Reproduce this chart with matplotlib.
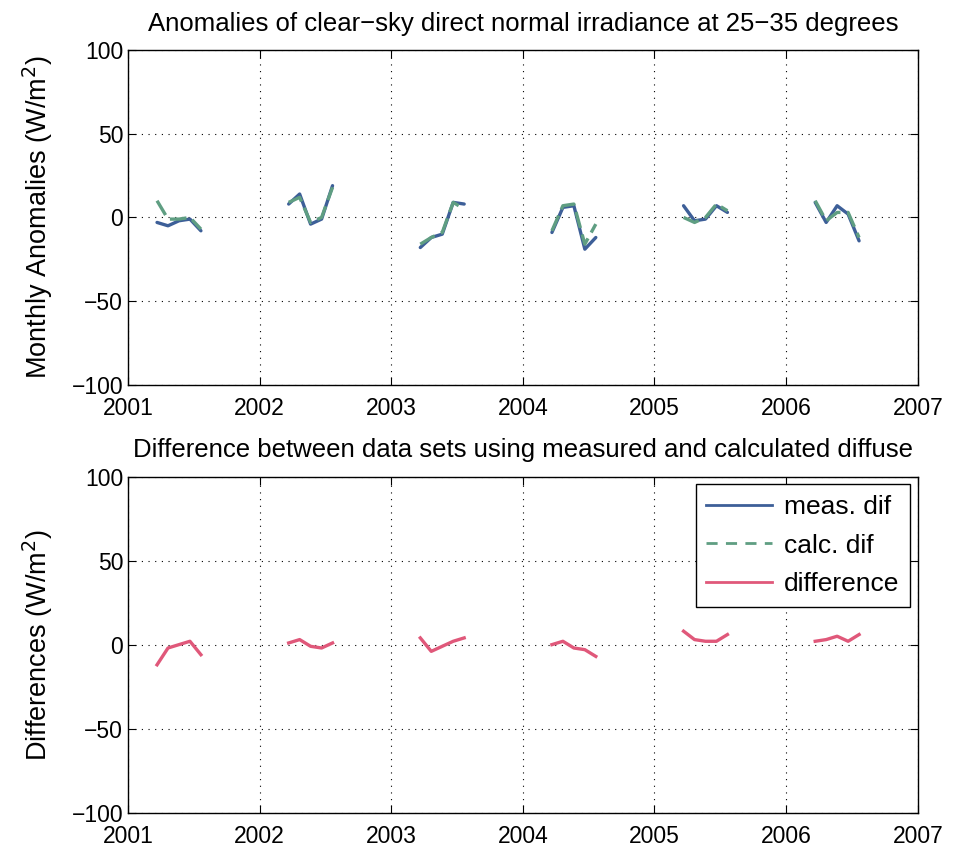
import matplotlib
matplotlib.use("Agg")
import matplotlib.pyplot as plt
import numpy as np

plt.rcParams['font.family'] = ['Liberation Sans', 'DejaVu Sans']

# April..August of each year
years = [2001, 2002, 2003, 2004, 2005, 2006]
months = [4, 5, 6, 7, 8]

meas_dif = [
    [-3, -5, -2, -1, -8],
    [8, 14, -4, -1, 19],
    [-18, -12, -10, 9, 8],
    [-9, 6, 7, -19, -12],
    [7, -2, -1, 7, 3],
    [9, -3, 7, 2, -14],
]
calc_dif = [
    [10, -1, -1, 0, -7],
    [9, 12, -3, 0, 18],
    [-16, -12, -9, 9, 5],
    [-8, 7, 8, -16, -4],
    [0, -3, 0, 8, 4],
    [10, -2, 3, 3, -12],
]
difference = [
    [-12, -2, 0, 2, -6],
    [1, 3, -1, -2, 1],
    [4, -4, -1, 2, 4],
    [0, 2, -2, -3, -7],
    [8, 3, 2, 2, 6],
    [2, 3, 5, 2, 6],
]

c_meas = '#3d5f98'
c_calc = '#5f9e82'
c_diff = '#e0587a'

fig = plt.figure(figsize=(9.55, 8.51), dpi=100)
ax1 = fig.add_axes([0.134, 0.548, 0.827, 0.393])
ax2 = fig.add_axes([0.134, 0.045, 0.827, 0.395])


def t_of(y):
    return [y + (m - 1.35) / 12.0 for m in months]


for i, y in enumerate(years):
    t = t_of(y)
    ax1.plot(t, meas_dif[i], color=c_meas, lw=2.4, solid_capstyle='round')
    ax1.plot(t, calc_dif[i], color=c_calc, lw=2.4, ls=(0, (5, 2)))
    ax2.plot(t, difference[i], color=c_diff, lw=2.4)

# legend entries
ax2.plot([], [], color=c_meas, lw=2, label='meas. dif')
ax2.plot([], [], color=c_calc, lw=2, ls=(0, (4, 3)), label='calc. dif')
ax2.plot([], [], color=c_diff, lw=2, label='difference')

for ax in (ax1, ax2):
    ax.set_xlim(2001, 2007)
    ax.set_ylim(-100, 100)
    ax.set_xticks(range(2001, 2008))
    ax.set_yticks([-100, -50, 0, 50, 100])
    ax.tick_params(direction='in', labelsize=16.5, length=6, top=True, right=True)
    ax.tick_params(axis='x', pad=9)
    ax.grid(True, ls=(0, (1, 5)), color='black', lw=0.8)
    for s in ax.spines.values():
        s.set_linewidth(1.0)

ax1.set_title('Anomalies of clear\u2212sky direct normal irradiance at 25\u221235 degrees',
              fontsize=18.5, pad=14)
ax1.set_ylabel('Monthly Anomalies (W/m$^2$)', fontsize=19.5, labelpad=12)
ax2.set_title('Difference between data sets using measured and calculated diffuse',
              fontsize=18.5, pad=14)
ax2.set_ylabel('Differences (W/m$^2$)', fontsize=19.5, labelpad=12)

leg = ax2.legend(loc='upper right', fontsize=19, fancybox=False, edgecolor='black',
                 handlelength=2.5, borderaxespad=0.3, framealpha=1,
                 labelspacing=0.55, borderpad=0.4, handletextpad=0.45)
leg.get_frame().set_linewidth(1.0)

fig.savefig('out.png', dpi=100)
